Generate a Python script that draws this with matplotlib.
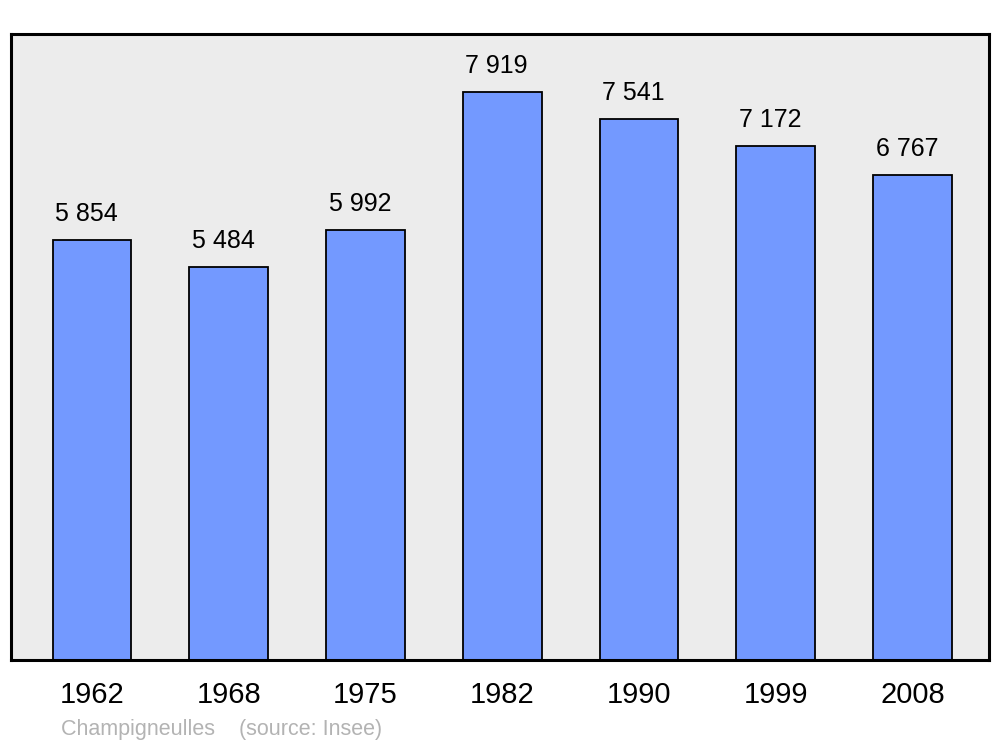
import matplotlib
matplotlib.use("Agg")
import matplotlib.pyplot as plt

plt.rcParams['font.family'] = ['Liberation Sans', 'DejaVu Sans']

years = ['1962', '1968', '1975', '1982', '1990', '1999', '2008']
population = [5854, 5484, 5992, 7919, 7541, 7172, 6767]
value_labels = ['5 854', '5 484', '5 992', '7 919', '7 541', '7 172', '6 767']

fig = plt.figure(figsize=(10, 7.47), dpi=100)
ax = fig.add_axes([0.011, 0.1165, 0.978, 0.838])
ax.set_facecolor('#ececec')

x = range(len(years))
ax.bar(x, population, width=0.575, color='#7399ff', edgecolor='black',
       linewidth=1.3, zorder=2)

for xi, v, lab in zip(x, population, value_labels):
    ax.text(xi - 0.04, v + 195, lab, ha='center', va='bottom', fontsize=18)

ax.set_xlim(-0.592, 6.56)
ax.set_ylim(0, 8727)
ax.set_xticks(list(x))
ax.set_xticklabels(years, fontsize=21)
ax.tick_params(axis='x', length=0, pad=15)
ax.set_yticks([])
for s in ax.spines.values():
    s.set_linewidth(2.2)
    s.set_color('black')

fig.text(0.061, 0.023, 'Champigneulles    (source: Insee)', color='#b3b3b3',
         fontsize=15.5, ha='left', va='center')

fig.savefig('out.png', dpi=100, facecolor='white')
